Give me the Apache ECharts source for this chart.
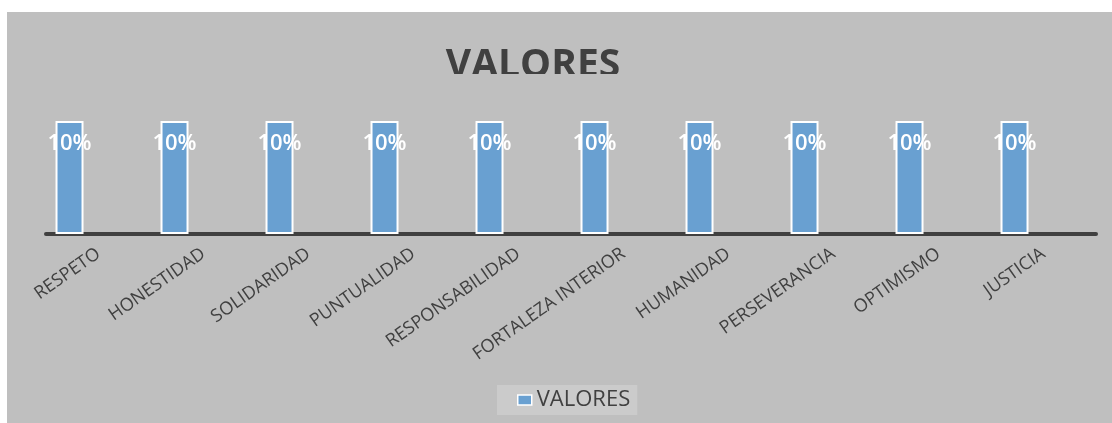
<!DOCTYPE html>
<html>
<head>
<meta charset="utf-8">
<script src="https://cdn.jsdelivr.net/npm/echarts@6/dist/echarts.min.js"></script>
<style>
  html, body { margin: 0; padding: 0; background: #fff; }
  #chart { position: absolute; left: 7px; top: 12px; width: 1105px; height: 411px; }
</style>
</head>
<body>
<div id="chart"></div>
<script>
const categories = ['RESPETO', 'HONESTIDAD', 'SOLIDARIDAD', 'PUNTUALIDAD', 'RESPONSABILIDAD',
  'FORTALEZA INTERIOR', 'HUMANIDAD', 'PERSEVERANCIA', 'OPTIMISMO', 'JUSTICIA'];
const valores = [0.1, 0.1, 0.1, 0.1, 0.1, 0.1, 0.1, 0.1, 0.1, 0.1];
const emptySeries = categories.map(() => null);

const chart = echarts.init(document.getElementById('chart'));
const font = '"Open Sans", sans-serif';

chart.setOption({
  backgroundColor: '#bfbfbf',
  animation: false,
  title: {
    text: 'VALORES',
    left: 521,
    top: 29,
    textAlign: 'center',
    textStyle: { fontFamily: font, fontSize: 39, fontWeight: 'bold', color: '#404040' },
  },
  graphic: [
    // the original title is cut off at the bottom
    { type: 'rect', z: 100, shape: { x: 400, y: 62, width: 260, height: 20 }, style: { fill: '#bfbfbf' } },
  ],
  legend: {
    data: ['VALORES'],
    left: 490,
    top: 373,
    padding: [4, 7, 4, 20],
    backgroundColor: '#cbcbcb',
    itemWidth: 14,
    itemHeight: 10,
    icon: 'rect',
    itemStyle: { borderColor: '#ffffff', borderWidth: 1.5 },
    textStyle: { fontFamily: font, fontSize: 22, color: '#404040' },
  },
  grid: { left: 39, right: 16, top: 109, bottom: 189 },
  xAxis: {
    type: 'category',
    data: categories,
    axisLine: { lineStyle: { color: '#404040', width: 4 } },
    axisTick: { show: false },
    axisLabel: {
      interval: 0,
      rotate: 35,
      margin: 18,
      fontFamily: font,
      fontSize: 18,
      color: '#404040',
    },
  },
  yAxis: {
    type: 'value',
    min: 0,
    max: 0.1,
    show: false,
  },
  series: [
    {
      name: 'VALORES',
      type: 'bar',
      data: valores,
      barWidth: 28,
      barGap: '107%',
      itemStyle: { color: '#69a0d1', borderColor: '#ffffff', borderWidth: 2 },
      label: {
        show: true,
        position: ['50%', 23],
        align: 'center',
        verticalAlign: 'middle',
        formatter: (p) => Math.round(p.value * 100) + '%',
        fontFamily: font,
        fontSize: 22,
        fontWeight: 600,
        color: '#ffffff',
      },
    },
    {
      name: 'extra',
      type: 'bar',
      data: emptySeries,
      barWidth: 28,
    },
  ],
});
</script>
</body>
</html>
